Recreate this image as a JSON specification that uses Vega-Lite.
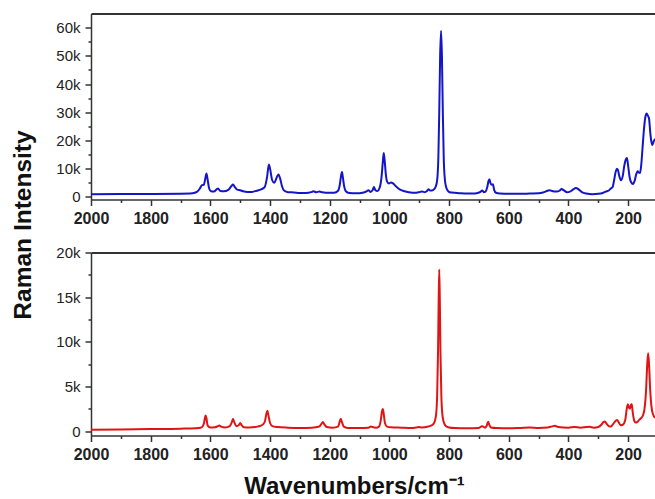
{
  "$schema": "https://vega.github.io/schema/vega-lite/v6.json",
  "autosize": {"type": "pad"},
  "padding": {"left": 10, "top": 6.5, "right": 0, "bottom": 0},
  "config": {
    "view": {"stroke": null},
    "font": "Liberation Sans",
    "axis": {
      "domainColor": "#333333", "domainWidth": 1.5,
      "tickColor": "#333333", "tickWidth": 1.5,
      "labelColor": "#222222", "titleColor": "#111111",
      "labelFont": "Liberation Sans", "titleFont": "Liberation Sans",
      "gridColor": "#333333", "gridWidth": 2
    }
  },
  "spacing": 53,
  "bounds": "flush",
  "datasets": {
    "blue": [
      {"wn":2000,"i":1000},{"wn":1900,"i":1020},{"wn":1800,"i":1050},{"wn":1700,"i":1150},{"wn":1660,"i":1300},
      {"wn":1645,"i":1800},{"wn":1635,"i":3000},{"wn":1628,"i":4200},{"wn":1622,"i":4300},{"wn":1617,"i":6500},
      {"wn":1613,"i":8300},{"wn":1609,"i":6000},{"wn":1604,"i":3000},{"wn":1598,"i":2000},{"wn":1588,"i":1900},
      {"wn":1578,"i":2800},{"wn":1574,"i":3000},{"wn":1568,"i":2200},{"wn":1555,"i":2000},{"wn":1540,"i":2500},
      {"wn":1530,"i":3800},{"wn":1524,"i":4400},{"wn":1518,"i":3500},{"wn":1510,"i":2600},{"wn":1500,"i":2400},
      {"wn":1490,"i":2000},{"wn":1475,"i":1800},{"wn":1460,"i":1800},{"wn":1445,"i":2200},{"wn":1430,"i":2700},
      {"wn":1418,"i":3500},{"wn":1410,"i":7000},{"wn":1404,"i":11500},{"wn":1399,"i":9500},{"wn":1393,"i":6000},
      {"wn":1386,"i":5000},{"wn":1378,"i":6800},{"wn":1372,"i":8000},{"wn":1366,"i":6500},{"wn":1360,"i":3800},
      {"wn":1352,"i":2200},{"wn":1340,"i":1700},{"wn":1320,"i":1600},{"wn":1300,"i":1400},{"wn":1280,"i":1400},
      {"wn":1262,"i":1700},{"wn":1255,"i":2000},{"wn":1245,"i":1700},{"wn":1235,"i":1900},{"wn":1225,"i":1700},
      {"wn":1205,"i":1500},{"wn":1185,"i":1500},{"wn":1172,"i":2200},{"wn":1166,"i":4500},{"wn":1162,"i":7500},
      {"wn":1159,"i":8800},{"wn":1156,"i":7000},{"wn":1152,"i":4000},{"wn":1146,"i":2000},{"wn":1135,"i":1400},
      {"wn":1110,"i":1300},{"wn":1090,"i":1500},{"wn":1075,"i":2100},{"wn":1070,"i":2400},{"wn":1064,"i":1800},
      {"wn":1056,"i":2500},{"wn":1052,"i":3500},{"wn":1047,"i":2400},{"wn":1040,"i":2100},{"wn":1032,"i":3500},
      {"wn":1026,"i":7500},{"wn":1022,"i":12500},{"wn":1019,"i":15600},{"wn":1016,"i":13000},{"wn":1012,"i":8000},
      {"wn":1008,"i":5500},{"wn":1002,"i":4800},{"wn":995,"i":5100},{"wn":988,"i":4800},{"wn":980,"i":4000},
      {"wn":970,"i":3000},{"wn":955,"i":2200},{"wn":935,"i":1700},{"wn":910,"i":1500},{"wn":897,"i":1800},
      {"wn":890,"i":1900},{"wn":882,"i":1700},{"wn":875,"i":2000},{"wn":869,"i":2700},{"wn":864,"i":2300},
      {"wn":857,"i":2300},{"wn":850,"i":2800},{"wn":845,"i":3600},{"wn":840,"i":6000},{"wn":836,"i":14000},
      {"wn":833,"i":30000},{"wn":830,"i":50000},{"wn":827,"i":58900},{"wn":824,"i":50000},{"wn":821,"i":30000},
      {"wn":818,"i":14000},{"wn":814,"i":6000},{"wn":810,"i":3500},{"wn":805,"i":2300},{"wn":798,"i":1700},
      {"wn":790,"i":1600},{"wn":780,"i":1500},{"wn":760,"i":1300},{"wn":740,"i":1200},{"wn":720,"i":1200},
      {"wn":705,"i":1400},{"wn":695,"i":1800},{"wn":689,"i":2300},{"wn":684,"i":1700},{"wn":678,"i":1900},
      {"wn":672,"i":3500},{"wn":668,"i":5600},{"wn":665,"i":6300},{"wn":661,"i":4800},{"wn":657,"i":4300},
      {"wn":653,"i":4500},{"wn":649,"i":2500},{"wn":643,"i":1500},{"wn":630,"i":1200},{"wn":600,"i":1100},
      {"wn":560,"i":1100},{"wn":530,"i":1200},{"wn":500,"i":1300},{"wn":485,"i":1600},{"wn":470,"i":2200},
      {"wn":463,"i":2400},{"wn":455,"i":2100},{"wn":440,"i":1900},{"wn":430,"i":2200},{"wn":423,"i":2800},
      {"wn":415,"i":2300},{"wn":405,"i":1700},{"wn":395,"i":1900},{"wn":385,"i":2600},{"wn":375,"i":3200},
      {"wn":365,"i":2600},{"wn":355,"i":1700},{"wn":340,"i":1200},{"wn":320,"i":1000},{"wn":300,"i":1100},
      {"wn":285,"i":1400},{"wn":275,"i":1900},{"wn":265,"i":2300},{"wn":258,"i":3000},{"wn":252,"i":3500},
      {"wn":247,"i":6000},{"wn":242,"i":8800},{"wn":238,"i":10000},{"wn":234,"i":9500},{"wn":230,"i":7500},
      {"wn":224,"i":5900},{"wn":218,"i":7500},{"wn":213,"i":11000},{"wn":208,"i":13200},{"wn":204,"i":13800},
      {"wn":200,"i":11000},{"wn":195,"i":7000},{"wn":190,"i":5200},{"wn":184,"i":4600},{"wn":178,"i":5800},
      {"wn":173,"i":8000},{"wn":168,"i":9100},{"wn":164,"i":8600},{"wn":160,"i":8500},{"wn":156,"i":11500},
      {"wn":152,"i":17000},{"wn":147,"i":24000},{"wn":142,"i":28500},{"wn":138,"i":29600},{"wn":134,"i":28800},
      {"wn":130,"i":27800},{"wn":126,"i":23000},{"wn":122,"i":19500},{"wn":119,"i":18400},{"wn":115,"i":19500},
      {"wn":110,"i":20600}
    ],
    "red": [
      {"wn":2000,"i":150},{"wn":1900,"i":180},{"wn":1800,"i":220},{"wn":1700,"i":270},{"wn":1650,"i":320},
      {"wn":1630,"i":400},{"wn":1622,"i":800},{"wn":1618,"i":1500},{"wn":1616,"i":1750},{"wn":1613,"i":1400},
      {"wn":1609,"i":600},{"wn":1600,"i":400},{"wn":1585,"i":420},{"wn":1575,"i":550},{"wn":1570,"i":630},
      {"wn":1564,"i":500},{"wn":1550,"i":400},{"wn":1535,"i":550},{"wn":1528,"i":1000},{"wn":1524,"i":1340},
      {"wn":1520,"i":1000},{"wn":1513,"i":550},{"wn":1505,"i":650},{"wn":1500,"i":900},{"wn":1496,"i":700},
      {"wn":1488,"i":420},{"wn":1470,"i":400},{"wn":1450,"i":450},{"wn":1430,"i":600},{"wn":1418,"i":1000},
      {"wn":1413,"i":1800},{"wn":1409,"i":2270},{"wn":1405,"i":1700},{"wn":1400,"i":900},{"wn":1392,"i":550},
      {"wn":1375,"i":450},{"wn":1340,"i":380},{"wn":1300,"i":350},{"wn":1260,"i":380},{"wn":1235,"i":500},
      {"wn":1228,"i":800},{"wn":1223,"i":1000},{"wn":1218,"i":750},{"wn":1210,"i":450},{"wn":1190,"i":380},
      {"wn":1172,"i":500},{"wn":1167,"i":1000},{"wn":1163,"i":1380},{"wn":1159,"i":1000},{"wn":1153,"i":500},
      {"wn":1140,"i":350},{"wn":1100,"i":330},{"wn":1070,"i":380},{"wn":1062,"i":500},{"wn":1057,"i":450},
      {"wn":1045,"i":380},{"wn":1035,"i":500},{"wn":1029,"i":1200},{"wn":1025,"i":2200},{"wn":1022,"i":2460},
      {"wn":1019,"i":1900},{"wn":1015,"i":900},{"wn":1008,"i":500},{"wn":995,"i":420},{"wn":960,"i":380},
      {"wn":920,"i":350},{"wn":900,"i":450},{"wn":893,"i":400},{"wn":870,"i":500},{"wn":855,"i":700},
      {"wn":848,"i":1100},{"wn":843,"i":2000},{"wn":840,"i":4000},{"wn":837,"i":9000},{"wn":835,"i":14500},
      {"wn":833,"i":18100},{"wn":831,"i":14500},{"wn":829,"i":9000},{"wn":826,"i":4000},{"wn":823,"i":2000},
      {"wn":818,"i":1000},{"wn":812,"i":600},{"wn":800,"i":400},{"wn":780,"i":330},{"wn":740,"i":300},
      {"wn":700,"i":350},{"wn":690,"i":550},{"wn":686,"i":500},{"wn":680,"i":380},{"wn":674,"i":600},
      {"wn":669,"i":1040},{"wn":665,"i":700},{"wn":660,"i":400},{"wn":640,"i":330},{"wn":600,"i":300},
      {"wn":560,"i":350},{"wn":530,"i":400},{"wn":500,"i":350},{"wn":470,"i":400},{"wn":455,"i":520},
      {"wn":445,"i":600},{"wn":435,"i":450},{"wn":400,"i":380},{"wn":380,"i":450},{"wn":360,"i":380},
      {"wn":340,"i":450},{"wn":330,"i":480},{"wn":315,"i":380},{"wn":300,"i":450},{"wn":290,"i":700},
      {"wn":283,"i":1000},{"wn":278,"i":1080},{"wn":272,"i":800},{"wn":265,"i":550},{"wn":258,"i":500},
      {"wn":250,"i":800},{"wn":243,"i":1100},{"wn":237,"i":1250},{"wn":232,"i":1000},{"wn":225,"i":650},
      {"wn":218,"i":700},{"wn":210,"i":1200},{"wn":205,"i":2400},{"wn":201,"i":3000},{"wn":197,"i":2600},
      {"wn":194,"i":2500},{"wn":191,"i":2900},{"wn":188,"i":3000},{"wn":185,"i":2200},{"wn":180,"i":1200},
      {"wn":175,"i":950},{"wn":170,"i":1000},{"wn":163,"i":1250},{"wn":155,"i":1500},{"wn":150,"i":1800},
      {"wn":145,"i":2500},{"wn":140,"i":4500},{"wn":136,"i":7500},{"wn":133,"i":8700},{"wn":130,"i":7500},
      {"wn":126,"i":4500},{"wn":122,"i":2800},{"wn":117,"i":1900},{"wn":110,"i":1500}
    ]
  },
  "vconcat": [
    {
      "width": 564,
      "height": 186,
      "data": {"name": "blue"},
      "mark": {"type": "line", "color": "#1414c8", "strokeWidth": 2, "interpolate": "monotone", "clip": true},
      "encoding": {
        "x": {
          "field": "wn", "type": "quantitative",
          "scale": {"domain": [2000, 110], "nice": false, "zero": false},
          "axis": {
            "values": [2000,1900,1800,1700,1600,1500,1400,1300,1200,1100,1000,900,800,700,600,500,400,300,200],
            "format": "d",
            "labelExpr": "datum.value % 200 === 0 ? datum.label : ''",
            "labelFontSize": 16, "labelFontWeight": "bold",
            "labelFlush": false, "labelOverlap": false, "labelPadding": 5,
            "tickSize": {"condition": {"test": "datum.value % 200 === 0", "value": 6}, "value": 3},
            "grid": false, "title": null
          }
        },
        "y": {
          "field": "i", "type": "quantitative",
          "scale": {"domain": [-900, 65000], "nice": false, "zero": false},
          "axis": {
            "values": [0,5000,10000,15000,20000,25000,30000,35000,40000,45000,50000,55000,60000,65000],
            "labelExpr": "datum.value === 0 ? '0' : ((datum.value % 10000 === 0 && datum.value < 65000) ? (datum.value / 1000) + 'k' : '')",
            "labelFontSize": 15, "labelPadding": 5, "labelOverlap": false, "labelFlush": false,
            "tickSize": {"condition": {"test": "datum.value % 10000 === 0", "value": 6}, "value": 3},
            "tickOpacity": {"condition": {"test": "datum.value === 65000", "value": 0}, "value": 1},
            "grid": true,
            "gridOpacity": {"condition": {"test": "datum.value === 65000", "value": 1}, "value": 0},
            "title": "Raman Intensity",
            "titleFontSize": 24.5, "titleFontWeight": "bold",
            "titleAngle": -90, "titleBaseline": "alphabetic",
            "titleX": -61, "titleY": 211
          }
        }
      }
    },
    {
      "width": 564,
      "height": 183,
      "data": {"name": "red"},
      "mark": {"type": "line", "color": "#e01414", "strokeWidth": 2, "interpolate": "monotone", "clip": true},
      "encoding": {
        "x": {
          "field": "wn", "type": "quantitative",
          "scale": {"domain": [2000, 110], "nice": false, "zero": false},
          "axis": {
            "values": [2000,1900,1800,1700,1600,1500,1400,1300,1200,1100,1000,900,800,700,600,500,400,300,200],
            "format": "d",
            "labelExpr": "datum.value % 200 === 0 ? datum.label : ''",
            "labelFontSize": 16, "labelFontWeight": "bold",
            "labelFlush": false, "labelOverlap": false, "labelPadding": 5,
            "tickSize": {"condition": {"test": "datum.value % 200 === 0", "value": 6}, "value": 3},
            "grid": false,
            "title": "Wavenumbers/cm⁻¹",
            "titleFontSize": 24, "titleFontWeight": "bold",
            "titleBaseline": "alphabetic",
            "titleX": 263, "titleY": 58
          }
        },
        "y": {
          "field": "i", "type": "quantitative",
          "scale": {"domain": [-500, 20000], "nice": false, "zero": false},
          "axis": {
            "values": [0,2500,5000,7500,10000,12500,15000,17500,20000],
            "labelExpr": "datum.value === 0 ? '0' : (datum.value % 5000 === 0 ? (datum.value / 1000) + 'k' : '')",
            "labelFontSize": 15, "labelPadding": 5, "labelOverlap": false, "labelFlush": false,
            "tickSize": {"condition": {"test": "datum.value % 5000 === 0", "value": 6}, "value": 3},
            "grid": true,
            "gridOpacity": {"condition": {"test": "datum.value === 20000", "value": 1}, "value": 0},
            "title": null
          }
        }
      }
    }
  ]
}
